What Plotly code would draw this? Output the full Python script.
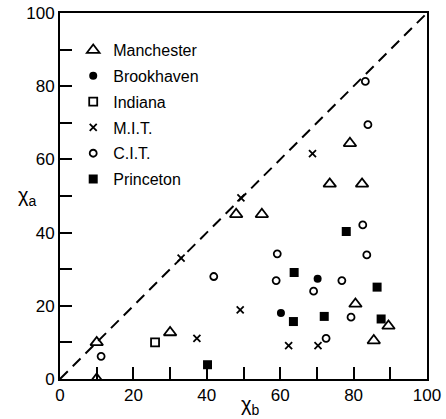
import plotly.graph_objects as go

# ---- data ----
manchester_x = [10, 10, 30, 48, 55, 73.5, 82.3, 79, 80.5, 89.5, 85.5]
manchester_y = [10, 0, 12.7, 45, 45, 53.3, 53.3, 64.4, 20.5, 14.5, 10.5]

brookhaven_x = [60.2, 70.2]
brookhaven_y = [18, 27.4]

indiana_x = [25.9]
indiana_y = [10]

mit_x = [33, 49.3, 49.1, 37.3, 68.8, 62.3, 70.3]
mit_y = [33, 49.5, 18.9, 11.1, 61.6, 9.1, 9.1]

cit_x = [11.2, 41.9, 59.2, 58.9, 69.1, 72.5, 76.8, 79.3, 82.5, 83.6, 83.9, 83.2]
cit_y = [6.2, 28, 34.2, 26.9, 24, 11.1, 26.9, 16.9, 42.1, 33.9, 69.5, 81.3]

princeton_x = [40.2, 63.8, 63.6, 72, 78, 86.4, 87.5]
princeton_y = [3.9, 29.1, 15.7, 17.1, 40.3, 25.1, 16.4]

diag = [0, 100]

tick_vals = list(range(0, 101, 10))
tick_text = [str(v) if v % 20 == 0 else "" for v in tick_vals]

FONT = "Liberation Sans"

fig = go.Figure()

fig.add_trace(go.Scatter(x=diag, y=diag, mode="lines", showlegend=False,
                         line=dict(color="black", width=2, dash="11px,7px"),
                         hoverinfo="skip"))

series = [
    ("Manchester", manchester_x, manchester_y, "triangle-up-open", 11, 1.8),
    ("Brookhaven", brookhaven_x, brookhaven_y, "circle", 8, 0),
    ("Indiana", indiana_x, indiana_y, "square-open", 8, 1.8),
    ("M.I.T.", mit_x, mit_y, "x-thin-open", 7, 1.8),
    ("C.I.T.", cit_x, cit_y, "circle-open", 7, 1.8),
    ("Princeton", princeton_x, princeton_y, "square", 9, 0),
]
for i, (name, xs, ys, sym, size, lw) in enumerate(series):
    fig.add_trace(go.Scatter(
        x=xs, y=ys, mode="markers", name=name, legendgroup=f"g{i}",
        marker=dict(symbol=sym, size=size, color="black",
                    line=dict(color="black", width=lw)),
    ))

axis_common = dict(
    range=[0, 100], tickmode="array", tickvals=tick_vals, ticktext=tick_text,
    ticks="inside", ticklen=12, tickwidth=1.8, tickcolor="black",
    showline=True, linecolor="black", linewidth=2, mirror=True,
    showgrid=False, zeroline=False, automargin=False,
    ticklabeloverflow="allow",
    tickfont=dict(family=FONT, size=17, color="black"),
)

fig.update_layout(
    width=446, height=419,
    margin=dict(l=60, r=19, t=13, b=40),
    paper_bgcolor="white", plot_bgcolor="white",
    xaxis=dict(**axis_common),
    yaxis=dict(**axis_common),
    legend=dict(x=0.036, y=0.945, xanchor="left", yanchor="top",
                itemwidth=30,
                font=dict(family=FONT, size=16, color="black"),
                bgcolor="rgba(0,0,0,0)", tracegroupgap=2),
    annotations=[
        dict(text="χ<sub>a</sub>", xref="paper", yref="paper", x=-0.12, y=0.5,
             showarrow=False, font=dict(family=FONT, size=20, color="black")),
        dict(text="χ<sub>b</sub>", xref="paper", yref="paper", x=0.52, y=-0.072,
             yanchor="middle", showarrow=False,
             font=dict(family=FONT, size=20, color="black")),
    ],
)

fig.write_html("out.html", config={"displayModeBar": False},
               post_script="document.body.style.margin='0';document.body.style.overflow='hidden';")
